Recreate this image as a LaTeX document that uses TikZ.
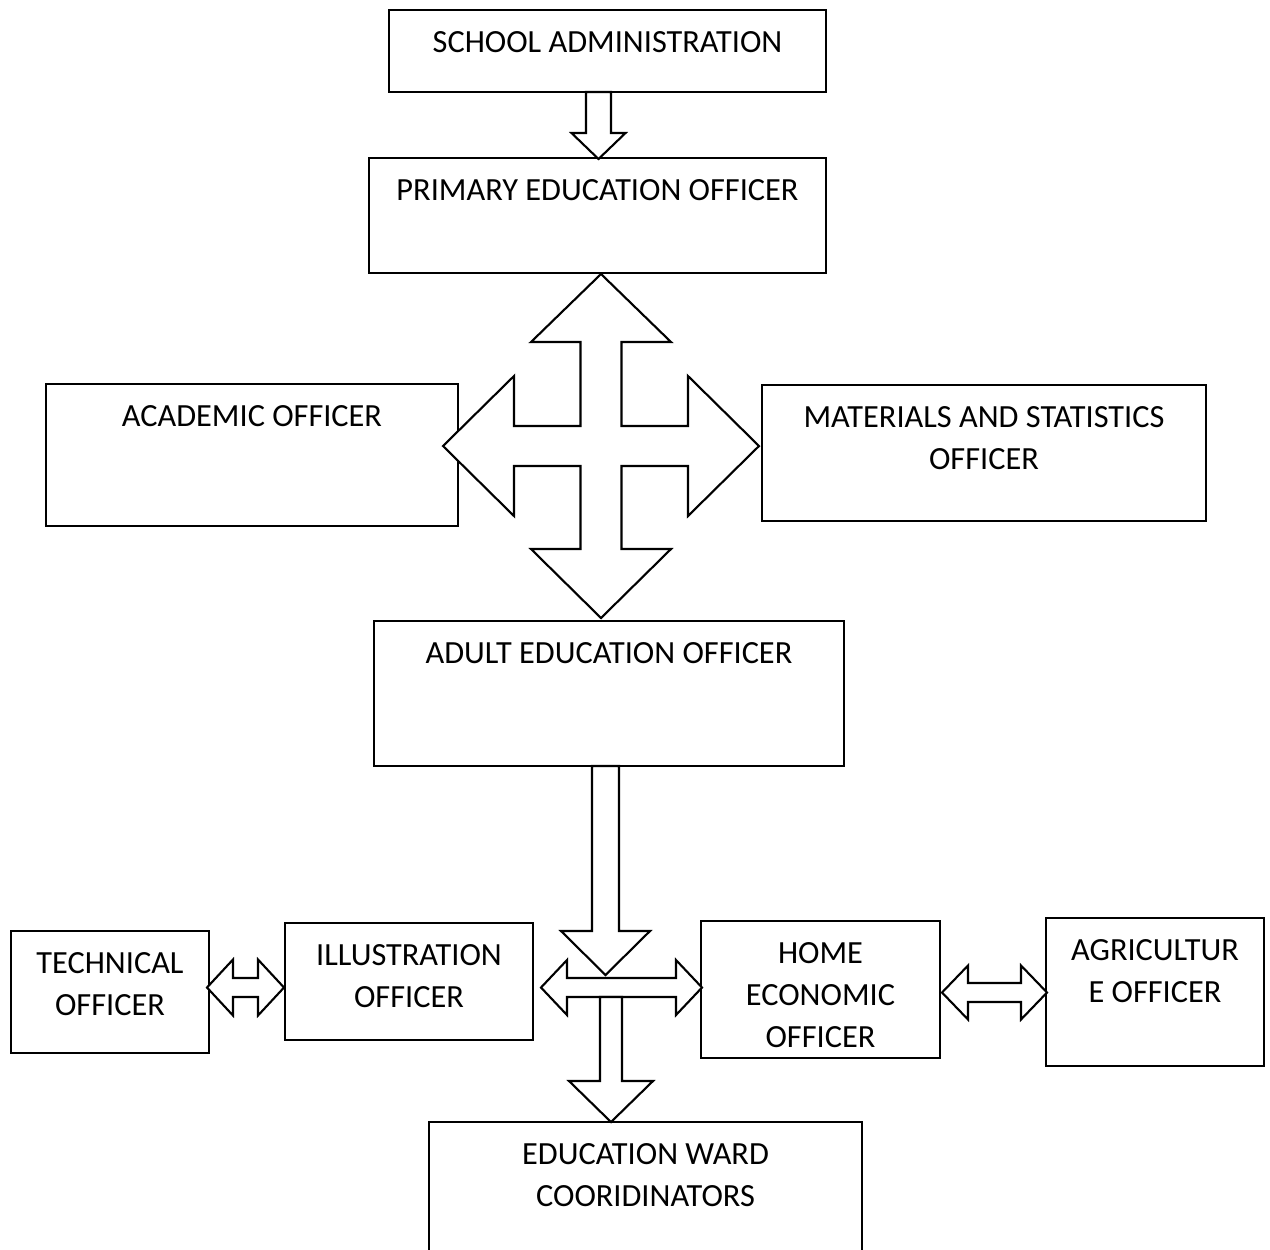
\documentclass[tikz,border=0pt]{standalone}
\usepackage{fontspec}
\setmainfont{Carlito}
\usetikzlibrary{positioning}

\tikzset{
  officebox/.style 2 args={draw, line width=1.2pt, inner sep=0pt,
    minimum width=#1*0.02cm, minimum height=#2*0.02cm},
  boxtext/.style={inner sep=0pt, align=center,
    font=\fontsize{18.4}{23.9}\selectfont},
  blockarrow/.style={draw, line width=1.2pt, line join=miter, fill=white}
}

% vertical block arrow: x, y start, y tip, shaft half, head half, head length
\newcommand{\downblock}[6]{%
  \draw[blockarrow] (#1-#4,#2) -- (#1+#4,#2) -- (#1+#4,#3-#6) -- (#1+#5,#3-#6)
    -- (#1,#3) -- (#1-#5,#3-#6) -- (#1-#4,#3-#6) -- cycle;}
% horizontal double block arrow: y, x left tip, x right tip, shaft half, head half, head length
\newcommand{\sideblock}[6]{%
  \draw[blockarrow] (#2,#1) -- (#2+#6,#1-#5) -- (#2+#6,#1-#4) -- (#3-#6,#1-#4)
    -- (#3-#6,#1-#5) -- (#3,#1) -- (#3-#6,#1+#5) -- (#3-#6,#1+#4)
    -- (#2+#6,#1+#4) -- (#2+#6,#1+#5) -- cycle;}

\begin{document}
\begin{tikzpicture}[x=0.02cm, y=-0.02cm]
    \useasboundingbox (0,0) rectangle (1270,1249);
    % top of the chart
    \node [officebox={437}{82}]  (school)    at (607.5, 51)   {};
    \node [officebox={457}{115}] (primary)   at (597.5, 215.5) {};
    \node [officebox={412}{142}] (academic)  at (252, 455)    {};
    \node [officebox={444}{136}] (materials) at (984, 453)    {};
    \node [officebox={470}{145}] (adult)     at (609, 693.5)  {};
    % bottom row
    \node [officebox={198}{122}] (technical)    at (110, 992)    {};
    \node [officebox={248}{117}] (illustration) at (409, 981.5)  {};
    \node [officebox={239}{137}] (home)         at (820.5, 989.5) {};
    \node [officebox={218}{148}] (agriculture)  at (1155, 992)   {};
    \node [officebox={433}{178}] (ward)         at (645.5, 1211) {};
    % texts
    \node [boxtext, below=12.6pt of school.north]       (school-text)       {SCHOOL ADMINISTRATION};
    \node [boxtext, below=12.6pt of primary.north]      (primary-text)      {PRIMARY EDUCATION OFFICER};
    \node [boxtext, below=12.6pt of academic.north]     (academic-text)     {ACADEMIC OFFICER};
    \node [boxtext, below=12.6pt of materials.north]    (materials-text)    {MATERIALS AND STATISTICS\\OFFICER};
    \node [boxtext, below=12.6pt of adult.north]        (adult-text)        {ADULT EDUCATION OFFICER};
    \node [boxtext, below=12.6pt of technical.north]    (technical-text)    {TECHNICAL\\OFFICER};
    \node [boxtext, below=12.6pt of illustration.north] (illustration-text) {ILLUSTRATION\\OFFICER};
    \node [boxtext, below=12.6pt of home.north]         (home-text)         {HOME\\ECONOMIC\\OFFICER};
    \node [boxtext, below=12.6pt of agriculture.north]  (agriculture-text)  {AGRICULTUR\\E OFFICER};
    \node [boxtext, below=12.6pt of ward.north]         (ward-text)         {EDUCATION WARD\\COORIDINATORS};
    % school -> primary
    \downblock{598.5}{92}{159}{12.5}{27}{26}
    % four-way arrow round primary, academic, materials, adult
    \draw [blockarrow] (601,274) -- (671,342) -- (621.5,342) -- (621.5,426) -- (688,426)
      -- (688,376) -- (759,446) -- (688,516) -- (688,466) -- (621.5,466) -- (621.5,549)
      -- (671,549) -- (601,618) -- (531,549) -- (580.5,549) -- (580.5,466) -- (514,466)
      -- (514,516) -- (443,446) -- (514,376) -- (514,426) -- (580.5,426) -- (580.5,342)
      -- (531,342) -- cycle;
    % adult -> middle
    \downblock{605.5}{766}{975}{13.5}{44.5}{44}
    % illustration <-> home
    \sideblock{987.5}{541}{702}{9.5}{27.5}{26}
    % middle -> ward
    \downblock{611}{997}{1122}{11}{42}{41}
    % technical <-> illustration
    \sideblock{987.5}{207}{284}{9.5}{28}{26}
    % home <-> agriculture
    \sideblock{992.5}{942}{1047}{9.5}{27}{26}
  \end{tikzpicture}
\end{document}
